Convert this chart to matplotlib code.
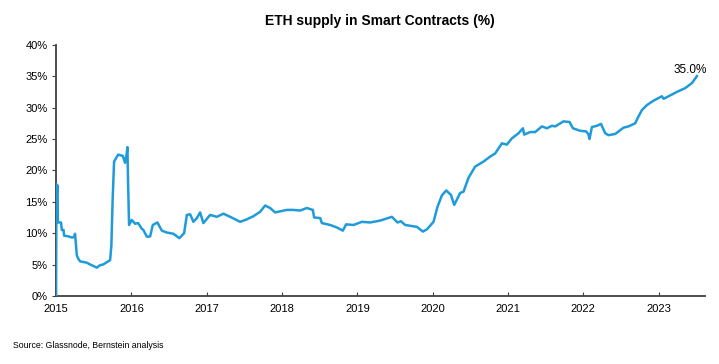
'''     ETH supply held in smart contracts, share of total supply      '''
import matplotlib as mpl
import matplotlib.pyplot as plt

# Series (decimal year, % of supply)
years = [
    2015.000, 2015.005, 2015.013, 2015.019, 2015.024, 2015.066, 2015.076, 2015.100,
    2015.106, 2015.159, 2015.212, 2015.239, 2015.252, 2015.275, 2015.292, 2015.319,
    2015.408, 2015.452, 2015.491, 2015.541, 2015.584, 2015.624, 2015.677, 2015.717,
    2015.734, 2015.750, 2015.770, 2015.823, 2015.886, 2015.916, 2015.936, 2015.947,
    2015.956, 2015.969, 2016.005, 2016.049, 2016.089, 2016.138, 2016.159, 2016.205,
    2016.248, 2016.284, 2016.345, 2016.404, 2016.470, 2016.558, 2016.637, 2016.700,
    2016.736, 2016.780, 2016.823, 2016.869, 2016.912, 2016.956, 2017.045, 2017.134,
    2017.222, 2017.311, 2017.444, 2017.533, 2017.620, 2017.709, 2017.776, 2017.842,
    2017.908, 2018.064, 2018.151, 2018.240, 2018.329, 2018.409, 2018.426, 2018.506,
    2018.529, 2018.639, 2018.728, 2018.807, 2018.851, 2018.948, 2019.060, 2019.170,
    2019.303, 2019.458, 2019.533, 2019.578, 2019.635, 2019.790, 2019.870, 2019.923,
    2020.011, 2020.064, 2020.122, 2020.179, 2020.242, 2020.286, 2020.365, 2020.409,
    2020.475, 2020.564, 2020.675, 2020.764, 2020.830, 2020.919, 2020.985, 2021.052,
    2021.139, 2021.198, 2021.215, 2021.295, 2021.361, 2021.450, 2021.517, 2021.583,
    2021.627, 2021.737, 2021.817, 2021.862, 2021.959, 2022.038, 2022.069, 2022.082,
    2022.114, 2022.181, 2022.234, 2022.291, 2022.335, 2022.424, 2022.534, 2022.600,
    2022.689, 2022.733, 2022.778, 2022.845, 2022.932, 2023.044, 2023.065, 2023.132,
    2023.243, 2023.353, 2023.442, 2023.508,
]
supply_pct = [
    0.0, 17.8, 16.5, 17.6, 11.7, 11.7, 10.5, 10.5,
    9.6, 9.5, 9.3, 9.4, 9.9, 6.5, 6.0, 5.5,
    5.3, 5.0, 4.8, 4.5, 4.9, 5.0, 5.4, 5.7,
    8.0, 15.0, 21.4, 22.5, 22.3, 21.2, 22.5, 23.7,
    18.0, 11.3, 12.1, 11.5, 11.6, 10.7, 10.5, 9.45,
    9.45, 11.3, 11.7, 10.4, 10.1, 9.9, 9.2, 10.0,
    12.9, 13.0, 11.8, 12.4, 13.3, 11.6, 12.9, 12.6,
    13.1, 12.6, 11.8, 12.2, 12.7, 13.4, 14.4, 14.0,
    13.3, 13.7, 13.7, 13.6, 14.0, 13.7, 12.5, 12.4,
    11.6, 11.3, 10.9, 10.4, 11.4, 11.3, 11.8, 11.7,
    12.0, 12.6, 11.7, 11.9, 11.3, 11.0, 10.25, 10.6,
    11.8, 14.2, 16.0, 16.8, 16.1, 14.5, 16.4, 16.6,
    18.8, 20.6, 21.4, 22.2, 22.7, 24.3, 24.1, 25.1,
    25.9, 26.7, 25.7, 26.1, 26.1, 27.0, 26.7, 27.1,
    27.0, 27.8, 27.7, 26.7, 26.3, 26.2, 25.7, 25.0,
    26.9, 27.1, 27.4, 25.9, 25.6, 25.8, 26.8, 27.0,
    27.5, 28.6, 29.6, 30.4, 31.1, 31.8, 31.4, 31.8,
    32.5, 33.1, 33.9, 35.0,
]
year_ticks = list(range(2015, 2024))
pct_ticks = list(range(0, 45, 5))

mpl.rcParams['font.family'] = ['Liberation Sans', 'DejaVu Sans']
mpl.rcParams['font.size'] = 8

fig = plt.figure(figsize=(7.19, 3.64), dpi=100, facecolor='white')
ax = fig.add_axes([0.078, 0.187, 0.903, 0.690])

# Main line
ax.plot(years, supply_pct, color='#1f9bd9', linewidth=1.8, solid_joinstyle='round', zorder=3)

# Label on the last value
ax.annotate(f'{supply_pct[-1]:.1f}%', xy=(years[-1], supply_pct[-1]), xytext=(-5, 0),
            textcoords='offset points', ha='center', va='bottom', fontsize=8.5)

# Axes and ticks
ax.set_xlim(2015, 2023.62)
ax.set_ylim(0, 40)
ax.set_xticks(year_ticks)
ax.set_yticks(pct_ticks)
ax.set_yticklabels([f'{p}%' for p in pct_ticks])
for side in ['top', 'right']:
    ax.spines[side].set_visible(False)
for side in ['left', 'bottom']:
    ax.spines[side].set_color('#404040')
    ax.spines[side].set_linewidth(1.3)
ax.tick_params(axis='x', direction='in', length=3, color='#404040', pad=6)
ax.tick_params(axis='y', direction='out', length=3, color='#404040', pad=3)

fig.text(0.529, 0.942, 'ETH supply in Smart Contracts (%)', ha='center', va='center',
         fontsize=10, fontweight='bold')
fig.text(0.018, 0.05, 'Source: Glassnode, Bernstein analysis', ha='left', va='center',
         fontsize=6.3)

fig.savefig('out.png', dpi=100)
